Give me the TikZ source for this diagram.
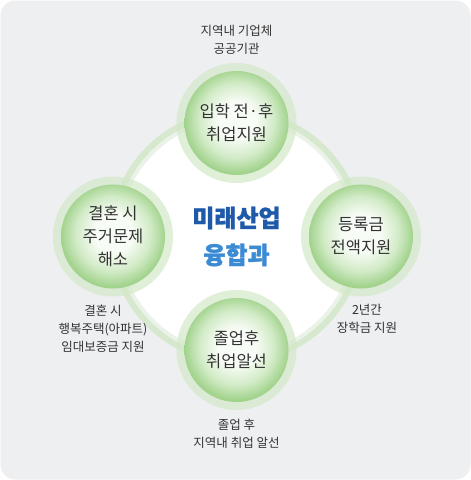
\documentclass[tikz,border=0pt]{standalone}
\usepackage{fontspec}
\newfontfamily\kor{Noto Sans CJK KR}
\newfontfamily\korblack[FakeBold=1.3]{Noto Sans CJK KR Black}
\usepackage{tikz}

\definecolor{bggray}{HTML}{EEEFF1}
\definecolor{ringgreen}{HTML}{D6E8CD}
\definecolor{ringpale}{HTML}{EBF2E8}
\definecolor{halogreen}{HTML}{D3E9C8}
\definecolor{ballgreen}{HTML}{A2D38D}
\definecolor{ballmid}{HTML}{D2EBC7}
\definecolor{ballcenter}{HTML}{F8FCF6}
\definecolor{txtgray}{HTML}{333333}
\definecolor{titledark}{HTML}{1E5AA9}
\definecolor{titlelight}{HTML}{3A8AD4}

\pgfdeclareradialshading{ballshade}{\pgfpoint{0bp}{2bp}}{%
  color(0bp)=(ballcenter); color(9bp)=(ballcenter); color(18bp)=(ballmid);
  color(25bp)=(ballgreen); color(50bp)=(ballgreen)}

\tikzset{
  halo/.style={circle, fill=halogreen, fill opacity=0.7, minimum size=120pt, inner sep=0pt},
  ball/.style={circle, shading=ballshade, minimum size=104pt,
    inner sep=0pt, align=center, text=txtgray, font=\kor\fontsize{16.5}{23}\selectfont},
  note/.style={align=center, text=txtgray, font=\kor\fontsize{12.5}{18}\selectfont},
}

\begin{document}
\begin{tikzpicture}[x=1pt,y=-1pt]
  \useasboundingbox (0,0) rectangle (471,480);
  \fill[white] (0,0) rectangle (471,480);
  \fill[bggray, rounded corners=15pt] (0.5,0.5) rectangle (470.5,479.5);

  % big ring
  \coordinate (mid) at (236.5,236.5);
  \fill[white] (mid) circle[radius=121];
  \draw[ringpale, line width=4pt] (mid) circle[radius=119];
  \draw[ringgreen, line width=6pt] (mid) circle[radius=124];

  % halos
  \node[halo] (tophalo) at (236.5,123) {};
  \node[halo] (righthalo) at (361,236.5) {};
  \node[halo] (bottomhalo) at (236.5,350) {};
  \node[halo] (lefthalo) at (113,236.5) {};

  % balls
  \node[ball] (top) at (tophalo) {입학 전·후\\취업지원};
  \node[ball] (right) at (righthalo) {등록금\\전액지원};
  \node[ball] (bottom) at (bottomhalo) {졸업후\\취업알선};
  \node[ball] (left) at (lefthalo) {결혼 시\\주거문제\\해소};

  % title
  \node[font=\korblack\fontsize{24}{37}\selectfont, align=center] (title) at (mid)
    {\textcolor{titledark}{미래산업}\\\textcolor{titlelight}{융합과}};

  % notes
  \node[note] (topnote) at (236.5,39.5) {지역내 기업체\\공공기관};
  \node[note] (rightnote) at (367,319) {2년간\\장학금 지원};
  \node[note] (bottomnote) at (236.5,434) {졸업 후\\지역내 취업 알선};
  \node[note] (leftnote) at (103,328.5) {결혼 시\\행복주택(아파트)\\임대보증금 지원};
\end{tikzpicture}
\end{document}
